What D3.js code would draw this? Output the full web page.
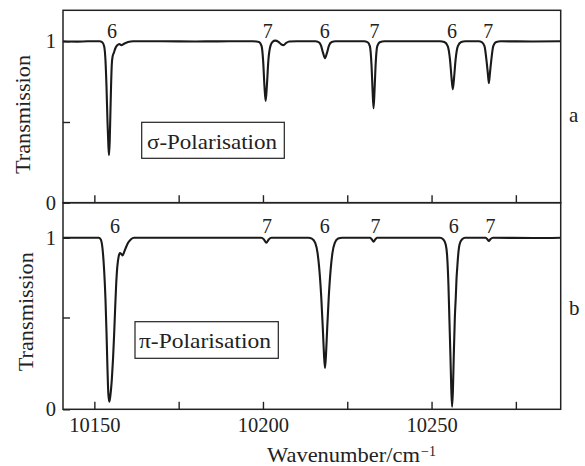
<!DOCTYPE html>
<html>
<head>
<meta charset="utf-8">
<script src="https://cdn.jsdelivr.net/npm/d3@7"></script>
<style>
  html, body { margin: 0; padding: 0; background: #fff; }
  svg { display: block; }
  text { font-family: "Liberation Serif", "DejaVu Serif", serif; fill: #222; }
</style>
</head>
<body>
<svg id="chart" width="585" height="466"></svg>
<script>
// ---------- data ----------
const sigmaWavenumber = [
  10140.7, 10145, 10148, 10151.5, 10152.3, 10152.9, 10153.3, 10153.6, 10153.9, 10154.15,
  10154.35, 10154.55, 10154.75, 10154.95, 10155.15, 10155.4, 10155.8, 10156.3, 10156.8, 10157.4,
  10158.0, 10158.8, 10160.0, 10161.5, 10170, 10180, 10190, 10197, 10198.8, 10199.6,
  10200.05, 10200.45, 10200.8, 10201.15, 10201.6, 10202.2, 10202.9, 10203.6, 10204.6, 10205.5,
  10206.1, 10206.9, 10207.8, 10210, 10215.5, 10216.5, 10217.2, 10217.8, 10218.4, 10219.0,
  10219.6, 10220.4, 10221.5, 10230, 10231.0, 10231.7, 10232.2, 10232.5, 10232.8, 10233.1,
  10233.4, 10233.9, 10234.8, 10236, 10252.5, 10253.8, 10254.8, 10255.5, 10255.9, 10256.3,
  10256.7, 10257.1, 10257.8, 10258.8, 10260, 10264, 10264.9, 10265.7, 10266.3, 10266.7,
  10267.0, 10267.3, 10267.7, 10268.3, 10269.2, 10270.5, 10280, 10288.3
];
const sigmaTransmission = [
  1.0, 0.998, 1.0, 1.0, 0.995, 0.97, 0.88, 0.72, 0.5, 0.36,
  0.295, 0.38, 0.55, 0.72, 0.85, 0.905, 0.93, 0.96, 0.975, 0.983,
  0.976, 0.985, 0.995, 1.0, 1.0, 0.999, 1.0, 1.0, 0.996, 0.97,
  0.88, 0.72, 0.63, 0.72, 0.88, 0.97, 0.997, 1.004, 0.997, 0.98,
  0.976, 0.99, 0.999, 1.0, 1.0, 0.995, 0.975, 0.93, 0.895, 0.93,
  0.975, 0.996, 1.0, 1.0, 0.995, 0.97, 0.85, 0.7, 0.585, 0.7,
  0.85, 0.97, 0.996, 1.0, 1.0, 0.995, 0.97, 0.88, 0.78, 0.702,
  0.78, 0.88, 0.97, 0.996, 1.0, 1.0, 0.995, 0.97, 0.88, 0.8,
  0.74, 0.8, 0.88, 0.97, 0.996, 1.0, 0.999, 1.0
];
const piWavenumber = [
  10140.7, 10148, 10151.3, 10151.9, 10152.4, 10152.9, 10153.3, 10153.6, 10153.9, 10154.15,
  10154.45, 10154.75, 10155.2, 10155.55, 10155.85, 10156.15, 10156.45, 10156.8, 10157.2, 10157.6,
  10158.0, 10158.4, 10158.8, 10159.3, 10160.0, 10160.8, 10161.8, 10175, 10190, 10199.5,
  10200.3, 10201.0, 10201.7, 10202.5, 10213.5, 10214.5, 10215.5, 10216.2, 10216.7, 10217.3,
  10217.8, 10218.1, 10218.4, 10218.7, 10219.0, 10219.5, 10220.1, 10220.6, 10221.3, 10222.3,
  10223.5, 10231.8, 10232.3, 10232.8, 10233.3, 10233.8, 10252.5, 10253.5, 10254.2, 10254.6,
  10255.0, 10255.3, 10255.6, 10255.85, 10256.1, 10256.35, 10256.6, 10256.9, 10257.2, 10257.4,
  10257.6, 10257.9, 10258.3, 10259.0, 10260, 10266, 10266.5, 10267.0, 10267.5, 10268.2,
  10280, 10288.3
];
const piTransmission = [
  1.0, 1.0, 1.0, 0.99, 0.94, 0.81, 0.64, 0.45, 0.23, 0.09,
  0.044, 0.08, 0.18, 0.3, 0.43, 0.58, 0.72, 0.83, 0.89, 0.91,
  0.905, 0.897, 0.915, 0.94, 0.97, 0.99, 1.0, 1.0, 1.0, 1.0,
  0.99, 0.971, 0.99, 1.0, 1.0, 0.995, 0.97, 0.91, 0.82, 0.65,
  0.45, 0.32, 0.24, 0.32, 0.45, 0.65, 0.82, 0.91, 0.97, 0.995,
  1.0, 1.0, 0.99, 0.977, 0.99, 1.0, 1.0, 0.99, 0.96, 0.9,
  0.73, 0.52, 0.31, 0.12, 0.015, 0.12, 0.32, 0.53, 0.66, 0.76,
  0.82, 0.9, 0.96, 0.99, 1.0, 1.0, 0.992, 0.981, 0.992, 1.0,
  0.998, 1.0
];
const peakLabels = ["6", "7", "6", "7", "6", "7"];
const sigmaLabelWavenumber = [10155.2, 10201.4, 10218.3, 10233.1, 10256.1, 10266.8];
const piLabelWavenumber = [10156.1, 10201.2, 10218.3, 10233.4, 10256.6, 10267.5];
const xTickValues = [10150, 10175, 10200, 10225, 10250, 10275];
const xTickLabels = ["10150", "", "10200", "", "10250", ""];
const sigmaYTicks = [0, 0.5, 1];
const piYTicks = [0, 0.535, 1];
const yTickLabels = ["0", "", "1"];
const panelNames = ["σ-Polarisation", "π-Polarisation"];
const panelLetters = ["a", "b"];

// ---------- layout ----------
const svg = d3.select("#chart");
const left = 63, right = 560.7;
const x = d3.scaleLinear().domain([10140.7, 10288.3]).range([left, right]);

const panels = [
  { wn: sigmaWavenumber, tr: sigmaTransmission, labelWn: sigmaLabelWavenumber, yTicks: sigmaYTicks,
    top: 10.3, bottom: 202.7, yMax: 1.192, labelBase: 37.7,
    box: [141.7, 122.3, 284.3, 158.3], textX: 147, textY: 148.5, textLen: 130,
    letterX: 569, letterY: 121.5, titleX: 30, titleY: 114.5, showXLabels: false },
  { wn: piWavenumber, tr: piTransmission, labelWn: piLabelWavenumber, yTicks: piYTicks,
    top: 202.7, bottom: 409.3, yMax: 1.204, labelBase: 233.3,
    box: [135, 321.7, 278.3, 358.3], textX: 139, textY: 348, textLen: 132,
    letterX: 569, letterY: 315, titleX: 33, titleY: 311.7, showXLabels: true }
];

panels.forEach((p, i) => {
  const y = d3.scaleLinear().domain([0, p.yMax]).range([p.bottom, p.top]);
  const g = svg.append("g");

  // x axis (ticks inward)
  const xAxis = d3.axisBottom(x).tickValues(xTickValues).tickSize(-7.5).tickPadding(8.5)
    .tickFormat((d, k) => p.showXLabels ? xTickLabels[k] : "");
  const gx = g.append("g").attr("transform", `translate(0,${p.bottom})`).call(xAxis);
  gx.select(".domain").remove();
  gx.selectAll("line").attr("stroke", "#222").attr("stroke-width", 1.4);
  gx.selectAll("text").attr("font-size", 20.5).attr("fill", "#222");

  // y axis (ticks inward)
  const yAxis = d3.axisLeft(y).tickValues(p.yTicks).tickSize(-7).tickPadding(7)
    .tickFormat((d, k) => yTickLabels[k]);
  const gy = g.append("g").attr("transform", `translate(${left},0)`).call(yAxis);
  gy.select(".domain").remove();
  gy.selectAll("line").attr("stroke", "#222").attr("stroke-width", 1.4);
  gy.selectAll("text").attr("font-size", 20.5).attr("fill", "#222");

  // data line
  const pts = p.wn.map((w, k) => [w, p.tr[k]]);
  const line = d3.line().x(d => x(d[0])).y(d => y(d[1])).curve(d3.curveMonotoneX);
  g.append("path").datum(pts).attr("d", line)
    .attr("fill", "none").attr("stroke", "#1a1a1a").attr("stroke-width", 2.1)
    .attr("stroke-linejoin", "round");

  // frame
  g.append("rect").attr("x", left).attr("y", p.top)
    .attr("width", right - left).attr("height", p.bottom - p.top)
    .attr("fill", "none").attr("stroke", "#222").attr("stroke-width", 1.5);

  // peak labels
  g.selectAll(".pk").data(p.labelWn).enter().append("text")
    .attr("x", d => x(d)).attr("y", p.labelBase)
    .attr("text-anchor", "middle").attr("font-size", 20)
    .text((d, k) => peakLabels[k]);

  // boxed panel name
  const [bx0, by0, bx1, by1] = p.box;
  g.append("rect").attr("x", bx0).attr("y", by0).attr("width", bx1 - bx0).attr("height", by1 - by0)
    .attr("fill", "#fff").attr("stroke", "#222").attr("stroke-width", 1.2);
  g.append("text").attr("x", p.textX).attr("y", p.textY).attr("font-size", 21)
    .attr("textLength", p.textLen).attr("lengthAdjust", "spacingAndGlyphs")
    .text(panelNames[i]);

  // y title
  g.append("text").attr("transform", `translate(${p.titleX},${p.titleY}) rotate(-90)`)
    .attr("text-anchor", "middle").attr("font-size", 22)
    .attr("textLength", 119).attr("lengthAdjust", "spacingAndGlyphs").text("Transmission");

  // panel letter
  g.append("text").attr("x", p.letterX).attr("y", p.letterY).attr("font-size", 21).text(panelLetters[i]);
});

// x title
svg.append("text").attr("x", 267).attr("y", 462).attr("font-size", 22)
  .attr("textLength", 153).attr("lengthAdjust", "spacingAndGlyphs").text("Wavenumber/cm");
svg.append("text").attr("x", 421).attr("y", 456).attr("font-size", 14).text("−1");
</script>
</body>
</html>
